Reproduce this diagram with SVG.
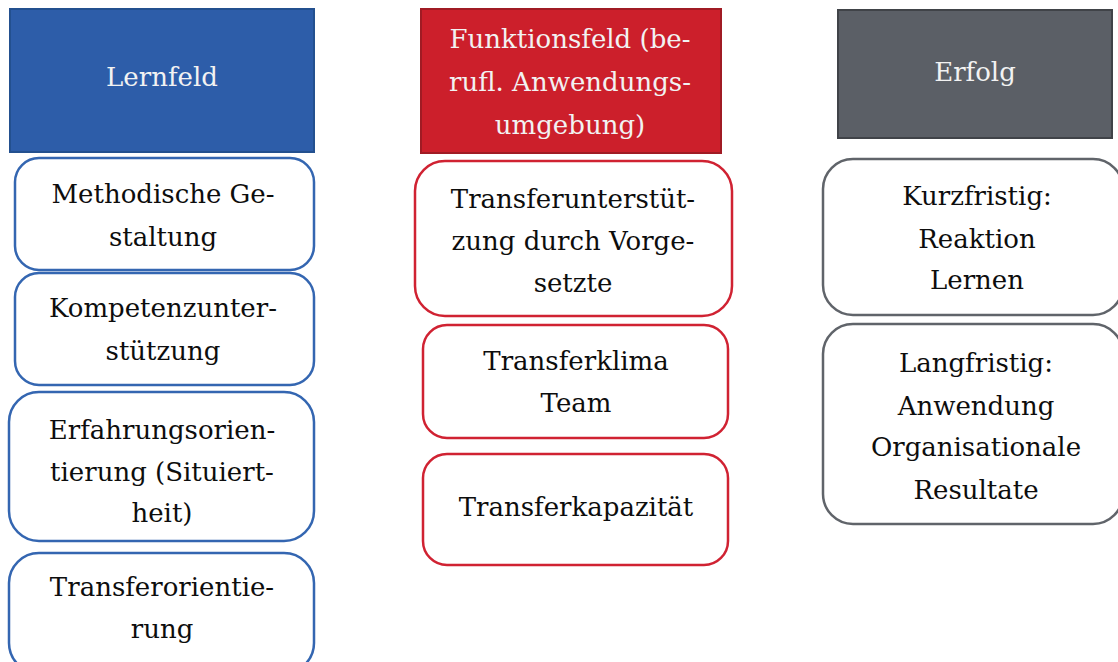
<svg xmlns="http://www.w3.org/2000/svg" width="1118" height="662" viewBox="0 0 1118 662">
<style>
text{font-family:"DejaVu Serif","Liberation Serif",serif;font-size:26px;text-anchor:middle;fill:#0d0d0d}
.hd text{fill:#f2f2f2}
.bh{fill:#2D5DA9;stroke:#23508F;stroke-width:2}
.rh{fill:#CC1F2B;stroke:#A01B24;stroke-width:2}
.gh{fill:#5B5F66;stroke:#404348;stroke-width:2}
.bb{fill:#fff;stroke:#3466B1;stroke-width:2.5}
.rb{fill:#fff;stroke:#D02232;stroke-width:2.5}
.gb{fill:#fff;stroke:#60646A;stroke-width:2.5}
</style>
<rect width="1118" height="662" fill="#fff"/>
<g id="lernfeld" class="hd"><rect class="bh" x="10" y="9" width="304" height="143"/><text x="162" y="86">Lernfeld</text></g>
<g id="methodische"><rect class="bb" x="15" y="158" width="299" height="112" rx="24"/><text x="163" y="203">Methodische Ge-</text><text x="163" y="246">staltung</text></g>
<g id="kompetenz"><rect class="bb" x="15" y="273" width="299" height="112" rx="24"/><text x="163" y="317">Kompetenzunter-</text><text x="163" y="360">stützung</text></g>
<g id="erfahrung"><rect class="bb" x="9" y="392" width="305" height="149" rx="30"/><text x="162" y="439">Erfahrungsorien-</text><text x="162" y="481">tierung (Situiert-</text><text x="162" y="522">heit)</text></g>
<g id="transferorientierung"><rect class="bb" x="9" y="553" width="305" height="120" rx="30"/><text x="162" y="596">Transferorientie-</text><text x="162" y="638">rung</text></g>
<g id="funktionsfeld" class="hd"><rect class="rh" x="421" y="9" width="300" height="144"/><text x="570" y="48">Funktionsfeld (be-</text><text x="570" y="91">rufl. Anwendungs-</text><text x="570" y="134">umgebung)</text></g>
<g id="vorgesetzte"><rect class="rb" x="415" y="161" width="317" height="155" rx="30"/><text x="573" y="208">Transferunterstüt-</text><text x="573" y="250">zung durch Vorge-</text><text x="573" y="292">setzte</text></g>
<g id="klima"><rect class="rb" x="423" y="325" width="305" height="113" rx="24"/><text x="576" y="370">Transferklima</text><text x="576" y="412">Team</text></g>
<g id="kapazitaet"><rect class="rb" x="423" y="454" width="305" height="111" rx="24"/><text x="576" y="516">Transferkapazität</text></g>
<g id="erfolg" class="hd"><rect class="gh" x="838" y="10" width="274" height="128"/><text x="975" y="81">Erfolg</text></g>
<g id="kurzfristig"><rect class="gb" x="823" y="159" width="300" height="156" rx="30"/><text x="977" y="205">Kurzfristig:</text><text x="977" y="248">Reaktion</text><text x="977" y="289">Lernen</text></g>
<g id="langfristig"><rect class="gb" x="823" y="324" width="300" height="200" rx="30"/><text x="976" y="372">Langfristig:</text><text x="976" y="415">Anwendung</text><text x="976" y="456">Organisationale</text><text x="976" y="499">Resultate</text></g>
<g id="connectors"></g>
</svg>
